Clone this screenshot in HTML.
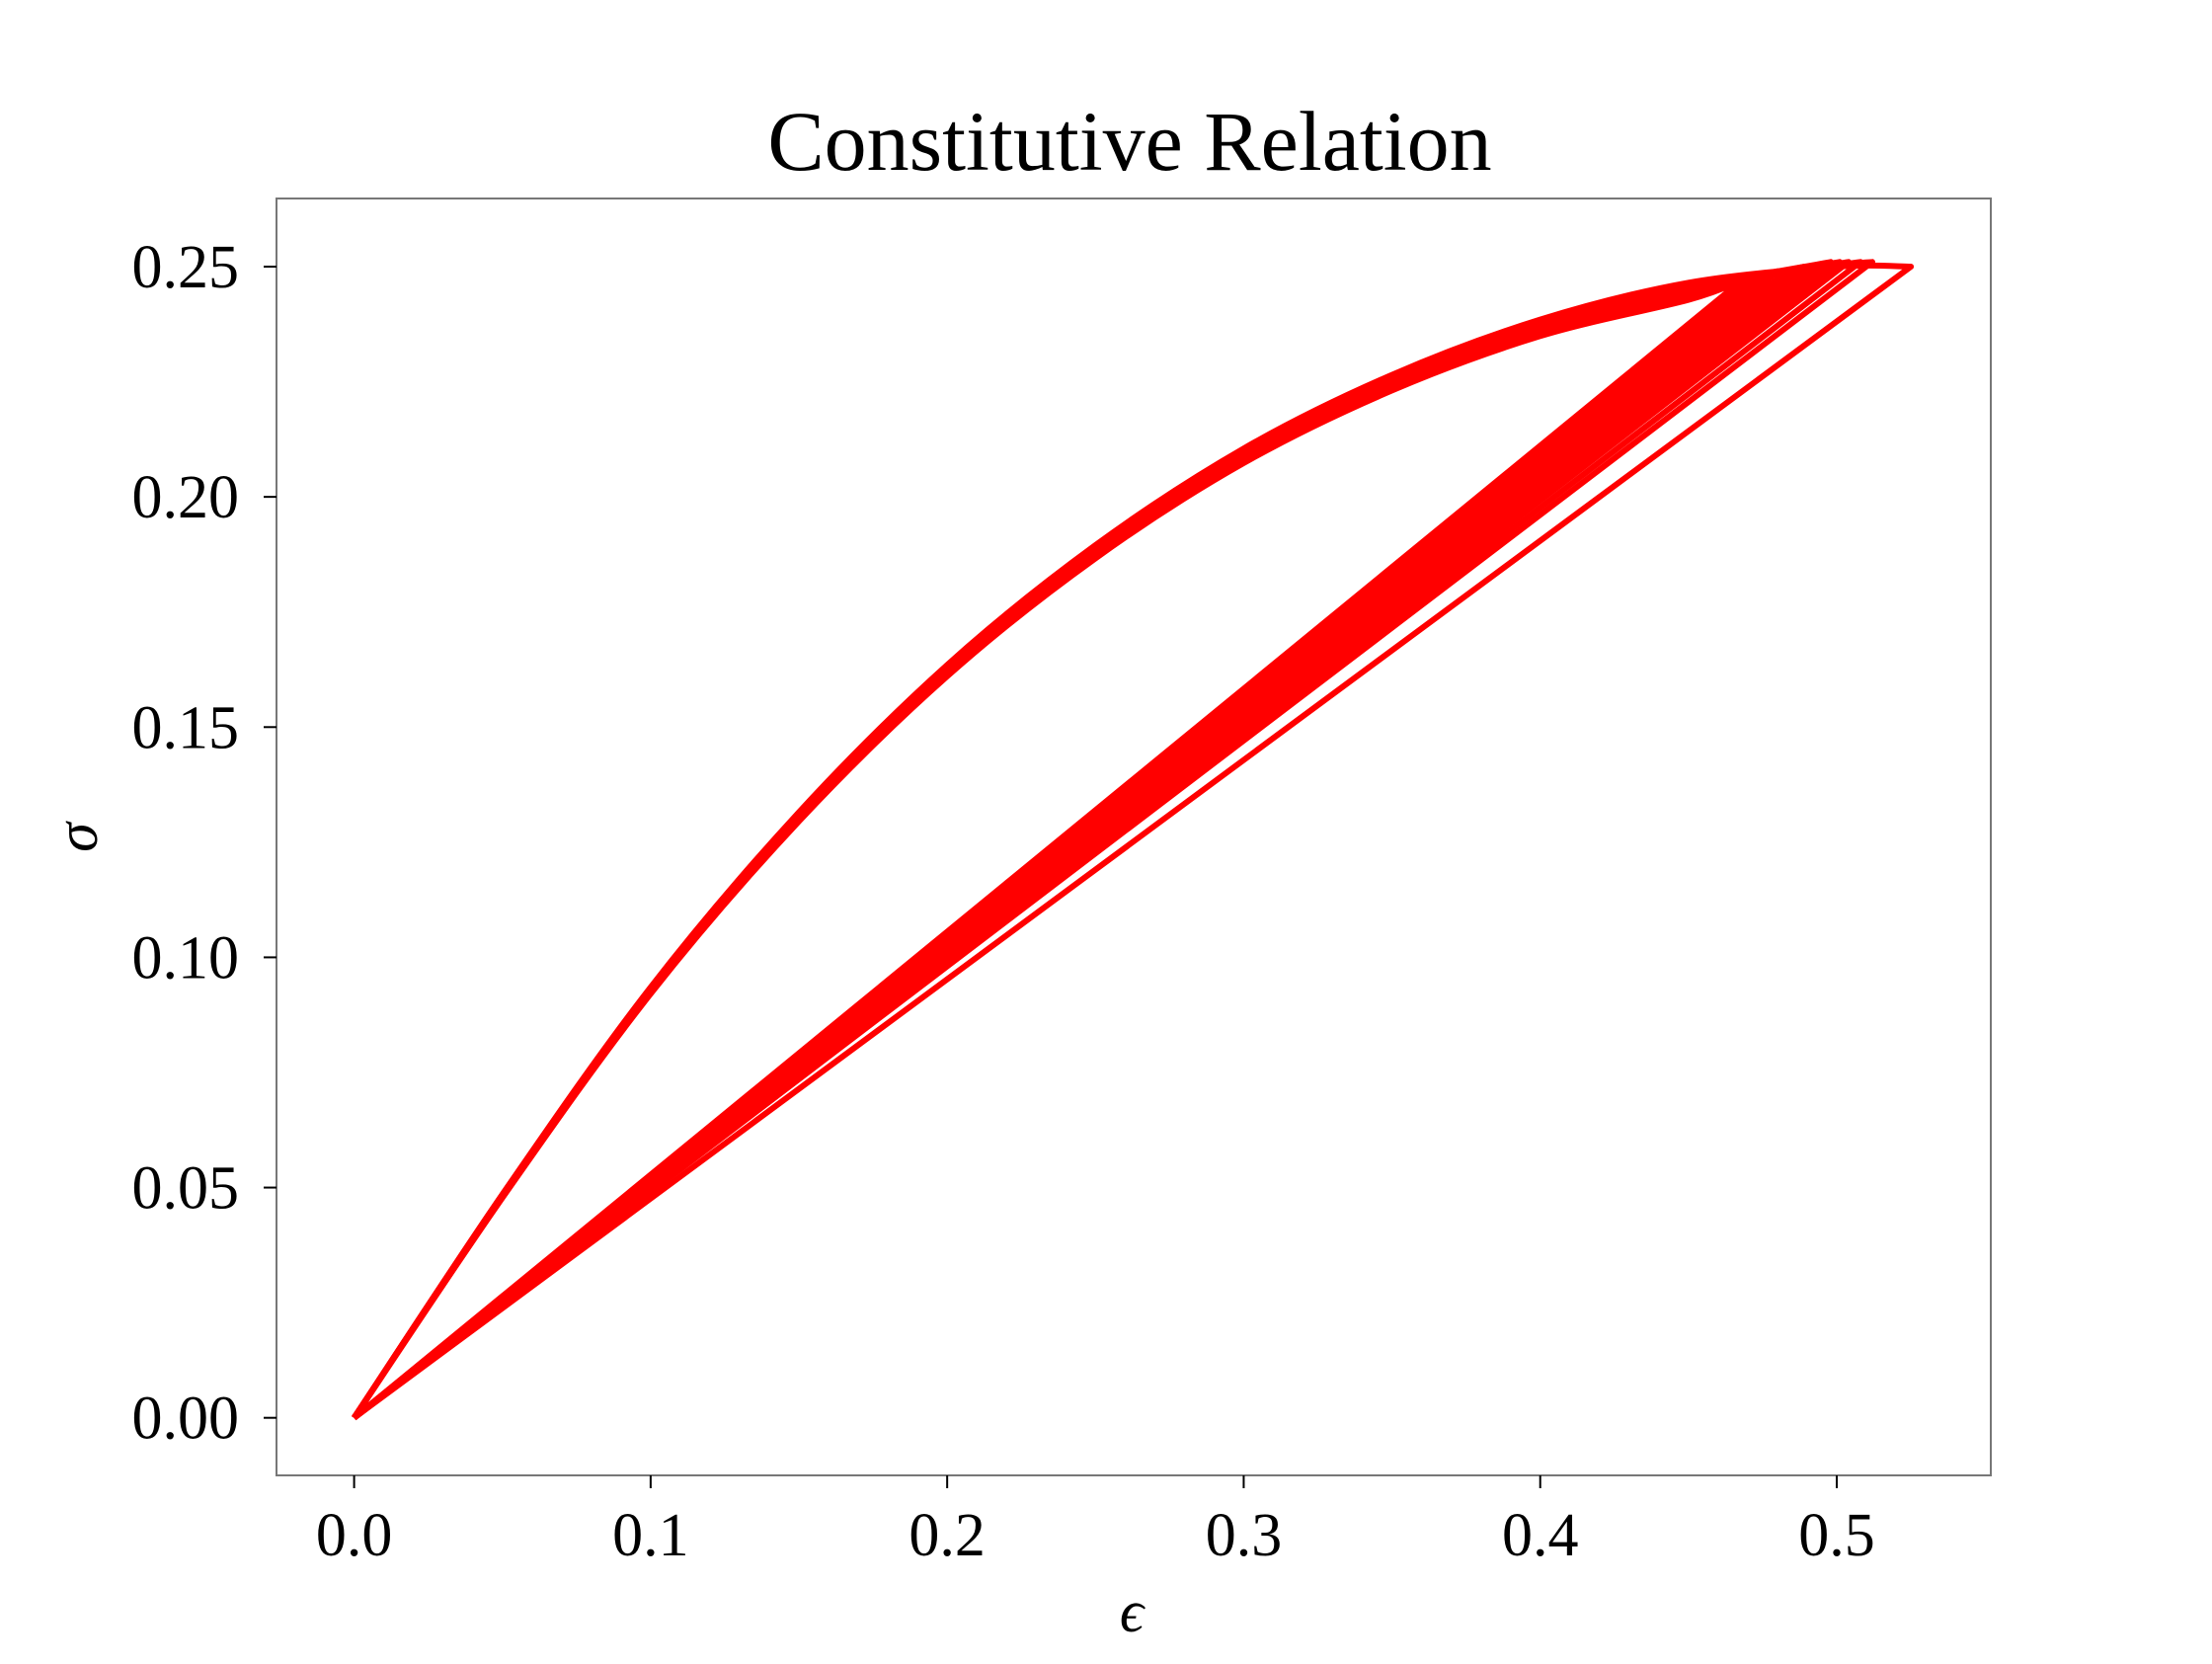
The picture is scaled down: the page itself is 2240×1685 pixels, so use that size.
<!DOCTYPE html>
<html><head><meta charset="utf-8"><style>
body{margin:0;background:#fff}
svg text{font-family:"Liberation Serif",serif;fill:#000}
</style></head><body>
<svg width="2240" height="1680" viewBox="0 0 2240 1680" xmlns="http://www.w3.org/2000/svg">
<rect width="2240" height="1680" fill="#fff"/>
<text x="1144" y="172" font-size="86" text-anchor="middle">Constitutive Relation</text>
<g id="marks"></g>
<rect x="280" y="201" width="1736" height="1293" fill="none" stroke="#777" stroke-width="2"/>
<g id="ticks"></g>
<text x="1146" y="1652" font-size="60" font-style="italic" text-anchor="middle">ϵ</text>
<text x="0" y="0" font-size="60" font-style="italic" text-anchor="middle" transform="translate(98,848) rotate(-90)">σ</text>
</svg>
<script>
const xTicks=[0,0.1,0.2,0.3,0.4,0.5];
const xTickLabels=["0.0","0.1","0.2","0.3","0.4","0.5"];
const yTicks=[0,0.05,0.10,0.15,0.20,0.25];
const yTickLabels=["0.00","0.05","0.10","0.15","0.20","0.25"];
const loadEps=[0,0.05,0.1,0.15,0.2,0.25,0.3,0.35,0.4,0.45,0.5,0.55];
const loadSig=[0,0.0485,0.0935,0.1315,0.1635,0.1895,0.2105,0.2265,0.2385,0.2465,0.2505,0.2525];
const cycleScale=[0.985,0.986,0.987,0.988,0.989,0.99,0.991,0.992,0.993,0.994,0.995,0.996,0.997,0.998,0.999,1.0];
const cycleEndEps=[0.468,0.471,0.474,0.477,0.48,0.483,0.486,0.489,0.492,0.495,0.498,0.501,0.504,0.508,0.512,0.525];
const cycleEndSig=[0.247,0.2475,0.248,0.2485,0.249,0.249,0.2495,0.25,0.25,0.2505,0.251,0.251,0.251,0.251,0.251,0.250];
const NS="http://www.w3.org/2000/svg";
const X=v=>358.6+v*(1860-358.6)/0.5;
const Y=v=>1435.7-v*(1435.7-270)/0.25;
const marks=document.getElementById('marks');
function smooth(P){
  let d='M'+P[0][0].toFixed(1)+','+P[0][1].toFixed(1);
  for(let i=0;i<P.length-1;i++){
    const p0=P[Math.max(i-1,0)],p1=P[i],p2=P[i+1],p3=P[Math.min(i+2,P.length-1)];
    const c1=[p1[0]+(p2[0]-p0[0])/6,p1[1]+(p2[1]-p0[1])/6];
    const c2=[p2[0]-(p3[0]-p1[0])/6,p2[1]-(p3[1]-p1[1])/6];
    d+=' C'+c1.map(v=>v.toFixed(1)).join(',')+' '+c2.map(v=>v.toFixed(1)).join(',')+' '+p2.map(v=>v.toFixed(1)).join(',');
  }
  return d;
}
cycleScale.forEach((s,i)=>{
  const pts=[];
  for(let k=0;k<loadEps.length;k++){
    if(loadEps[k]>=cycleEndEps[i]-0.01)break;
    pts.push([X(loadEps[k]),Y(Math.min(loadSig[k]*s,cycleEndSig[i]))]);
  }
  pts.push([X(cycleEndEps[i]),Y(cycleEndSig[i])]);
  const d=smooth(pts)+' L'+X(0).toFixed(1)+','+Y(0).toFixed(1);
  const p=document.createElementNS(NS,'path');
  
  
  p.setAttribute('d',d);
  p.setAttribute('fill','none');p.setAttribute('stroke','#ff0000');
  p.setAttribute('stroke-width','6');p.setAttribute('stroke-linejoin','round');
  marks.appendChild(p);
});
const tg=document.getElementById('ticks');
xTicks.forEach((v,i)=>{
  const l=document.createElementNS(NS,'line');
  
  
  l.setAttribute('x1',X(v));l.setAttribute('x2',X(v));l.setAttribute('y1',1494);l.setAttribute('y2',1507);
  l.setAttribute('stroke','#000');l.setAttribute('stroke-width','2');tg.appendChild(l);
  const t=document.createElementNS(NS,'text');
  
  
  t.setAttribute('x',X(v));t.setAttribute('y',1575);t.setAttribute('font-size','62');t.setAttribute('text-anchor','middle');
  t.textContent=xTickLabels[i];tg.appendChild(t);
});
yTicks.forEach((v,i)=>{
  const l=document.createElementNS(NS,'line');
  
  
  l.setAttribute('x1',267);l.setAttribute('x2',280);l.setAttribute('y1',Y(v));l.setAttribute('y2',Y(v));
  l.setAttribute('stroke','#000');l.setAttribute('stroke-width','2');tg.appendChild(l);
  const t=document.createElementNS(NS,'text');
  
  
  t.setAttribute('x',242);t.setAttribute('y',Y(v)+21);t.setAttribute('font-size','62');t.setAttribute('text-anchor','end');
  t.textContent=yTickLabels[i];tg.appendChild(t);
});
</script>
</body></html>
